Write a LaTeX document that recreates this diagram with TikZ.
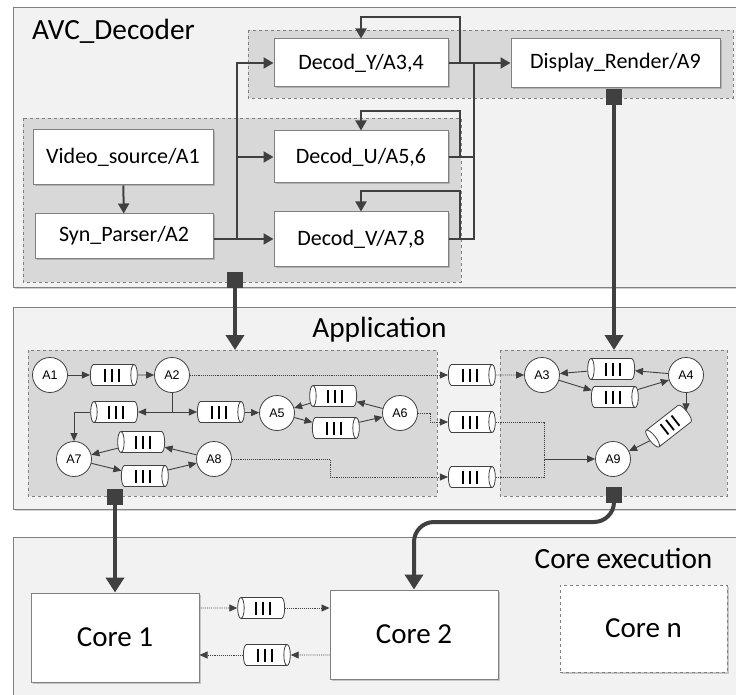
\documentclass[tikz,border=0pt]{standalone}
\usepackage{fontspec}
\setmainfont{Carlito}
\newfontfamily\lblfont{Liberation Sans}
\usetikzlibrary{arrows.meta,shapes.geometric,shadows}

\definecolor{ink}{HTML}{404040}
\definecolor{edge}{HTML}{808080}
\definecolor{panel}{HTML}{F2F2F2}
\definecolor{zone}{HTML}{D8D8D8}

% three bars drawn inside every FIFO
\newcommand\fifobars{\rule[-6.5pt]{1.8pt}{13pt}\hspace{5.2pt}\rule[-6.5pt]{1.8pt}{13pt}\hspace{5.2pt}\rule[-6.5pt]{1.8pt}{13pt}}

\tikzset{
  softshadow/.style={drop shadow={shadow xshift=1.5pt, shadow yshift=-1.5pt, fill=black, opacity=0.18}},
  section/.style={draw=edge, fill=panel, line width=1pt, softshadow},
  zonebox/.style={draw=edge, fill=zone, dashed, line width=0.8pt},
  taskbox/.style={draw=edge, fill=white, line width=1pt, inner sep=0pt, softshadow,
    font=\fontsize{22}{26}\selectfont},
  corebox/.style={draw=edge, fill=white, line width=1pt, inner sep=0pt, softshadow,
    font=\fontsize{29}{34}\selectfont},
  title/.style={font=\fontsize{29.3}{34}\selectfont, inner sep=0pt},
  actor/.style={circle, draw=ink, fill=white, line width=0.8pt, minimum size=35pt,
    inner sep=0pt, font=\lblfont\fontsize{12.5}{14}\selectfont},
  fifo/.style={cylinder, draw=ink, fill=white, line width=0.8pt, aspect=0.5,
    minimum width=21pt, minimum height=47pt, inner sep=0pt},
  fifoL/.style={fifo, shape border rotate=180},
  port/.style={fill=ink, minimum size=16pt, inner sep=0pt},
  flow/.style={draw=ink, line width=2pt, -{Triangle[length=10pt,width=11pt]}},
  wire/.style={draw=ink, line width=2pt},
  bigflow/.style={draw=ink, line width=4pt, -{Triangle[length=15pt,width=18pt]}},
  link/.style={draw=ink, line width=0.9pt, -{Triangle[length=8pt,width=7pt]}},
  dlink/.style={draw=ink, line width=0.9pt, densely dotted, -{Triangle[length=8pt,width=7pt]}},
  dwire/.style={draw=ink, line width=0.9pt, densely dotted},
}

\begin{document}
\begin{tikzpicture}[x=1pt, y=-1pt]
\useasboundingbox (0,0) rectangle (736,695);
\fill[white] (0,0) rectangle (736,695);
\clip (0,0) rectangle (736,695);

% ---------- three layers ----------
\path[section] (13,8) rectangle (760,287);
\path[section] (13,307) rectangle (760,509);
\path[section] (13,537) rectangle (760,720);

% ---------- AVC decoder ----------
\path[zonebox] (248,30) rectangle (733,98);
\path[zonebox] (23,118) rectangle (461,282);
\node[title, anchor=base west] (tavc) at (32,40) {AVC\_Decoder};

\node[taskbox, minimum width=180pt, minimum height=55pt] (vs) at (123,157.5) {Video\_source/A1};
\node[taskbox, minimum width=178pt, minimum height=44pt] (sp) at (124,236) {Syn\_Parser/A2};
\node[taskbox, minimum width=174pt, minimum height=48pt] (dy) at (361,63) {Decod\_Y/A3,4};
\node[taskbox, minimum width=174pt, minimum height=52pt] (du) at (361,157) {Decod\_U/A5,6};
\node[taskbox, minimum width=174pt, minimum height=54pt] (dv) at (361,239) {Decod\_V/A7,8};
\node[taskbox, minimum width=209pt, minimum height=49pt] (dr) at (615.5,63) {Display\_Render/A9};

\coordinate (trunk) at (237,239);
\draw[flow] (vs) -- (sp);
\draw[flow] (sp.east |- dv.west) -- (dv.west);
\draw[flow] (trunk) |- (dy.west);
\draw[flow] (trunk) |- (du.west);
% feedback loops of the decoders
\draw[flow] (dy.east) -| (460,17) -| (dy.north);
\draw[flow] (du.east) -| (460,111) -| (du.north);
\draw[flow] (dv.east) -| (460,191) -| (dv.north);
% collector towards the renderer
\draw[flow] (dy.east) -- (dr.west);
\draw[wire] (dv.east) -| (474,63);
\draw[wire] (du.east) -- (du.east -| 474,0);

% ---------- application ----------
\path[zonebox] (28,350) rectangle (437,496);
\path[zonebox] (500,350) rectangle (727,496);
\node[title, anchor=base] (tapp) at (379.5,337) {Application};

\node[actor] (a1) at (50,375) {A1};
\node[actor] (a2) at (172,375) {A2};
\node[actor] (a5) at (277,413) {A5};
\node[actor] (a6) at (400,413) {A6};
\node[actor] (a7) at (74,459) {A7};
\node[actor] (a8) at (214,459) {A8};
\node[actor] (a3) at (542,375) {A3};
\node[actor] (a4) at (686,375) {A4};
\node[actor] (a9) at (613,459) {A9};

\node[fifo]  (q12) at (112,375) {\fifobars};
\node[fifoL] (ql)  at (116,412) {\fifobars};
\node[fifo]  (qr)  at (219,412) {\fifobars};
\node[fifoL] (q87) at (143,442) {\fifobars};
\node[fifo]  (q78) at (143,476) {\fifobars};
\node[fifoL] (q65) at (335,396) {\fifobars};
\node[fifo]  (q56) at (334,428) {\fifobars};
\node[fifo]  (m1)  at (470,375) {\fifobars};
\node[fifo]  (m2)  at (470,422) {\fifobars};
\node[fifo]  (m3)  at (470,477) {\fifobars};
\node[fifoL] (q43) at (613,369) {\fifobars};
\node[fifo]  (q34) at (613,397) {\fifobars};
% tilted FIFO between A4 and A9, its face towards A9
\node[fifoL, rotate=38] (qd) at (670,425) {\fifobars};

\draw[link] (a1) -- (q12);
\draw[link] (q12) -- (a2);
\draw[link] (a2.south) |- (ql);
\draw[link] (a2.south) |- (qr);
\draw[link] (ql) -| (a7);
\draw[link] (qr) -- (a5);
\draw[link] (a5) -- (q56);
\draw[link] (q56) -- (a6);
\draw[link] (a6) -- (q65);
\draw[link] (q65) -- (a5);
\draw[link] (a8) -- (q87);
\draw[link] (q87) -- (a7);
\draw[link] (a7) -- (q78);
\draw[link] (q78) -- (a8);
\draw[link] (a4) -- (q43);
\draw[link] (q43) -- (a3);
\draw[link] (a3) -- (q34);
\draw[link] (q34) -- (a4);
\draw[link] (a4.south) -- (a4.south |- qd.bottom);
\draw[link] (qd.top) -- (a9);

\coordinate (join) at (544,459);
\draw[dlink] (a2) -- (m1);
\draw[dlink] (m1) -- (a3);
\draw[dlink] (a6.east) -- (430,413) |- (m2.west);
\draw[dlink] (a8.east) -- (330,459) |- (m3.west);
\draw[dwire] (m2.east) -| (join);
\draw[dwire] (m3.east) -| (join);
\draw[link] (join) -- (a9);

% ---------- core execution ----------
\node[title, anchor=base] (tcore) at (623.5,568) {Core execution};
\node[corebox, minimum width=168pt, minimum height=89pt] (c1) at (115,637.5) {Core 1};
\node[corebox, minimum width=168pt, minimum height=89pt] (c2) at (414,634.5) {Core 2};
\node[corebox, dashed, minimum width=167pt, minimum height=87pt] (cn) at (643.5,628.5) {Core n};

\node[fifoL] (cq1) at (263,608) {\fifobars};
\node[fifo]  (cq2) at (265,655) {\fifobars};
\draw[dlink] (c1.east |- cq1) -- (cq1);
\draw[dlink] (cq1) -- (c2.west |- cq1);
\draw[dlink] (c2.west |- cq2) -- (cq2);
\draw[dlink] (cq2) -- (c1.east |- cq2);

% ---------- mapping between layers ----------
\node[port] (p1) at (235,280) {};
\node[port] (p2) at (614,97) {};
\node[port] (p3) at (115,497) {};
\node[port] (p4) at (614,495) {};
\draw[bigflow] (p1.south) -- (235,350);
\draw[bigflow] (p2.south) -- (614,350);
\draw[bigflow] (p3.south) -- (c1.north);
\draw[bigflow, rounded corners=20pt] (p4.south) -- (614,522) -| (c2.north);
\end{tikzpicture}
\end{document}
